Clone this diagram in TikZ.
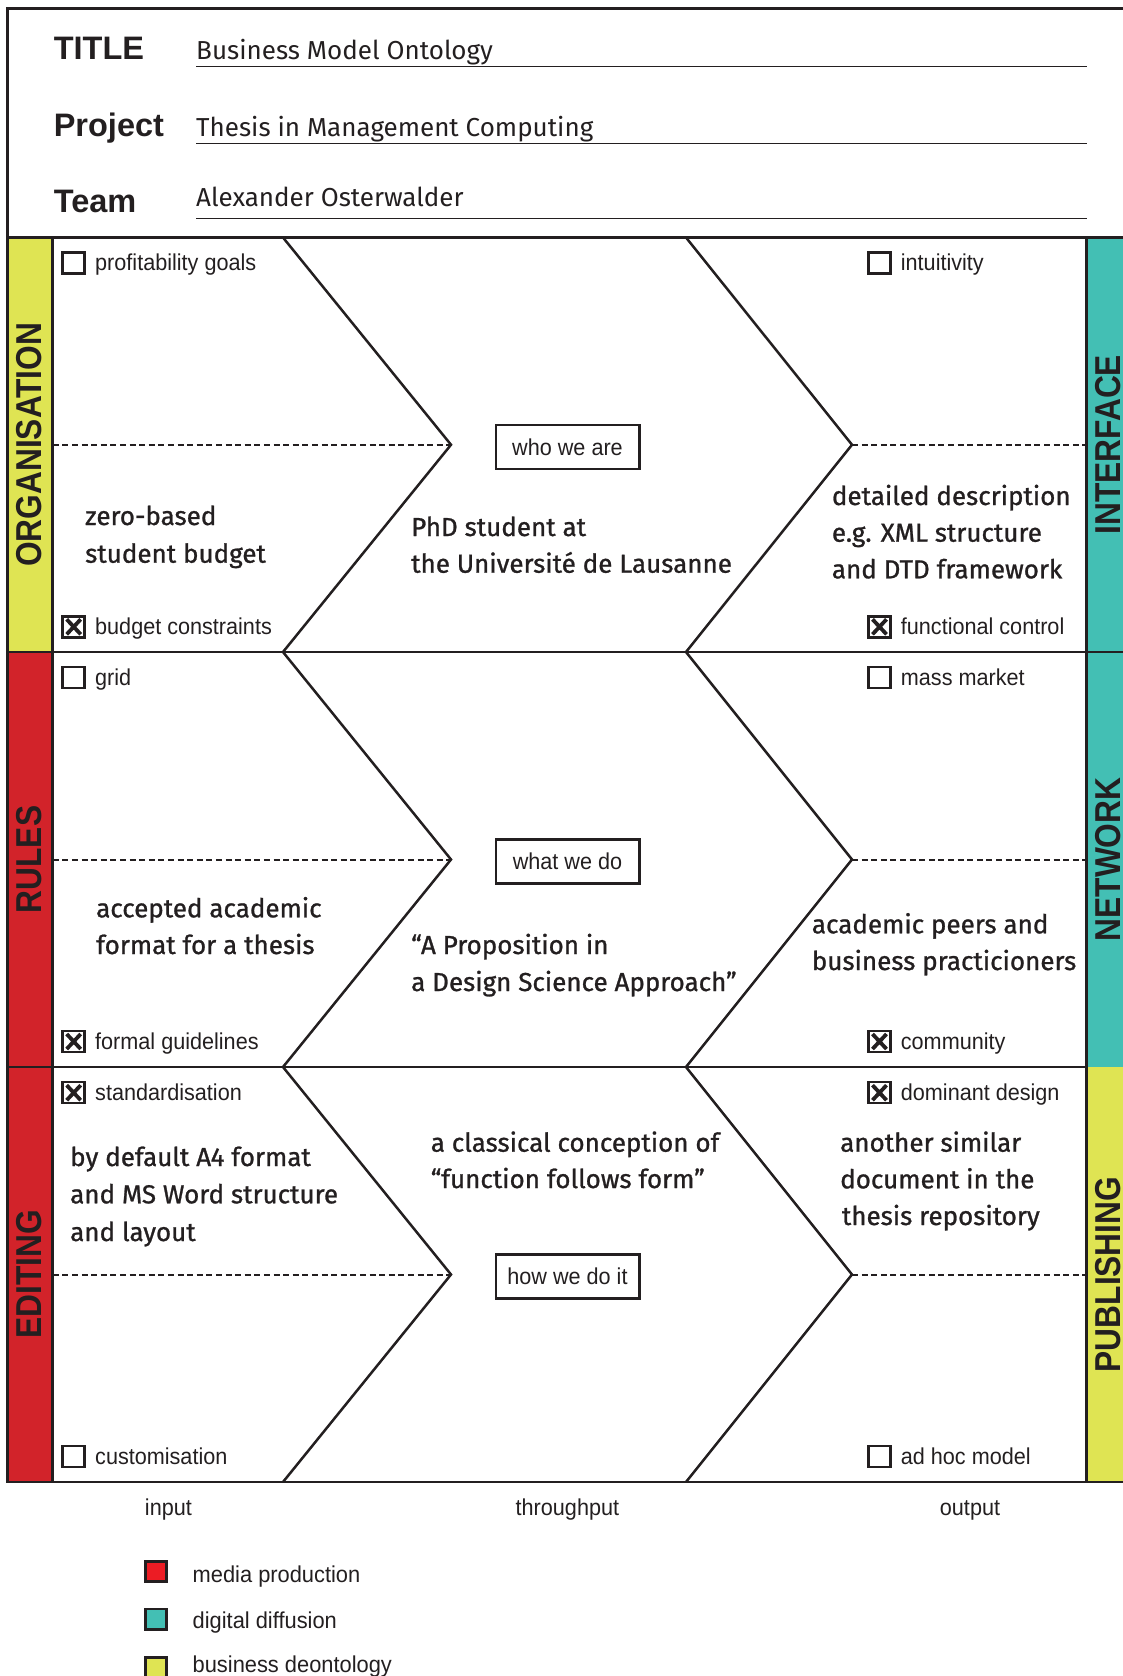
\documentclass[tikz,border=0pt]{standalone}
\usepackage{fontspec}
\setmainfont{Liberation Sans}
\newfontfamily\lblfont[FakeStretch=0.94]{Liberation Sans}
\newfontfamily\lgdfont[FakeStretch=0.95]{Liberation Sans}
\newfontfamily\hdrfont{Liberation Sans}
\newfontfamily\barfont[FakeStretch=0.88]{Liberation Sans}
\newfontfamily\handfont{Fira Sans}
\newfontfamily\handbfont[FakeBold=1]{Fira Sans}
\definecolor{colYel}{HTML}{DFE453}
\definecolor{colRed}{HTML}{D2232A}
\definecolor{colTeal}{HTML}{43BFB4}
\definecolor{colLegRed}{HTML}{EC1C24}
\definecolor{ink}{HTML}{231F20}
\tikzset{
  frameline/.style={draw=ink,line width=2.7pt},
  chevline/.style={draw=ink,line width=2.5pt,line join=miter},
  midline/.style={draw=ink,line width=2pt,dash pattern=on 6pt off 3.6pt},
  uline/.style={draw=ink,line width=1.5pt},
  lab/.style={inner sep=0pt,anchor=base west,text=ink,font=\lblfont\fontsize{23}{27}\selectfont},
  lgd/.style={inner sep=0pt,anchor=base west,text=ink,font=\lgdfont\fontsize{23}{27}\selectfont},
  bottomlab/.style={inner sep=0pt,anchor=base,text=ink,font=\lblfont\fontsize{23}{27}\selectfont},
  hdr/.style={inner sep=0pt,anchor=base west,text=ink,font=\hdrfont\bfseries\fontsize{32.5}{36}\selectfont},
  hval/.style={inner sep=0pt,anchor=base west,text=ink,font=\handfont\fontsize{26}{30}\selectfont},
  hand/.style={inner sep=0pt,anchor=base west,text=ink,font=\handbfont\fontsize{26}{30}\selectfont},
  barlab/.style={inner sep=0pt,rotate=90,text=ink,font=\barfont\bfseries\fontsize{36}{40}\selectfont},
  tagbox/.style={draw=ink,line width=2.5pt,minimum width=143.5pt,minimum height=44pt,inner sep=0pt,text=ink,font=\lblfont\fontsize{23}{27}\selectfont},
  cbox/.pic={\draw[ink,line width=2.5pt] (0,0) rectangle (22,21);},
  xbox/.pic={\draw[ink,line width=2.5pt] (0,0) rectangle (22,21);
             \draw[ink,line width=3.8pt] (4,3) -- (18,18) (18,3) -- (4,18);},
  legbox/.style={draw=ink,line width=2.5pt}
}
\begin{document}
\begin{tikzpicture}[x=1pt,y=-1pt]
\useasboundingbox (0,0) rectangle (1123,1676);
% colour bars
\path[fill=colYel] (7.3,237.5) rectangle (52.7,652);
\path[fill=colRed] (7.3,652) rectangle (52.7,1482);
\path[fill=colTeal] (1086.7,237.5) rectangle (1123,1067);
\path[fill=colYel] (1086.7,1067) rectangle (1123,1482);
% frame
\draw[frameline] (1123,8.3) -- (7.3,8.3) -- (7.3,1482) -- (1123,1482);
\draw[frameline] (7.3,237.5) -- (1123,237.5);
\draw[frameline] (7.3,652) -- (1123,652);
\draw[frameline] (7.3,1067) -- (1086.7,1067);
\draw[frameline] (52.7,237.5) -- (52.7,1482);
\draw[frameline] (1086.7,237.5) -- (1086.7,1482);
% chevrons and dashed middle lines
\foreach \t/\m/\b in {237.5/444.75/652, 652/859.5/1067, 1067/1274.5/1482}{
  \draw[chevline] (283,\t) -- (451,\m) -- (283,\b);
  \draw[chevline] (686,\t) -- (852,\m) -- (686,\b);
  \draw[midline] (52.7,\m) -- (451,\m);
  \draw[midline] (852,\m) -- (1086.7,\m);
}
% header
\node[hdr] (tlab) at (53.6,59.3) {TITLE};
\node[hdr] (plab) at (53.6,136) {Project};
\node[hdr] (mlab) at (53.6,212.7) {Team};
\node[hval] (tval) at (196,59.3) {Business Model Ontology};
\node[hval] (pval) at (196,136) {Thesis in Management Computing};
\node[hval] (mval) at (196,206.7) {Alexander Osterwalder};
\draw[uline] (196,66.7) -- (1087,66.7);
\draw[uline] (196,143.3) -- (1087,143.3);
\draw[uline] (196,218.3) -- (1087,218.3);
% side labels
\node[barlab] (org) at (29.5,444.75) {ORGANISATION};
\node[barlab] (rul) at (29.5,859.5) {RULES};
\node[barlab] (edi) at (29.5,1274.5) {EDITING};
\node[barlab] (itf) at (1108,444.75) {INTERFACE};
\node[barlab] (net) at (1108,859.5) {NETWORK};
\node[barlab] (pub) at (1108,1274.5) {PUBLISHING};
% check items row 1
\pic at (62.7,252.7) {cbox};
\node[lab] (c11) at (95,270) {profitability goals};
\pic at (62.7,616.3) {xbox};
\node[lab] (c12) at (95,634) {budget constraints};
\pic at (868.5,252.7) {cbox};
\node[lab] (c13) at (900.7,270) {intuitivity};
\pic at (868.5,616.3) {xbox};
\node[lab] (c14) at (900.7,634) {functional control};
% row 2
\pic at (62.7,667.2) {cbox};
\node[lab] (c21) at (95,685) {grid};
\pic at (62.7,1031) {xbox};
\node[lab] (c22) at (95,1049) {formal guidelines};
\pic at (868.5,667.2) {cbox};
\node[lab] (c23) at (900.7,685) {mass market};
\pic at (868.5,1031) {xbox};
\node[lab] (c24) at (900.7,1049) {community};
% row 3
\pic at (62.7,1082.2) {xbox};
\node[lab] (c31) at (95,1100) {standardisation};
\pic at (62.7,1446) {cbox};
\node[lab] (c32) at (95,1464) {customisation};
\pic at (868.5,1082.2) {xbox};
\node[lab] (c33) at (900.7,1100) {dominant design};
\pic at (868.5,1446) {cbox};
\node[lab] (c34) at (900.7,1464) {ad hoc model};
% tag boxes
\node[tagbox] (who) at (567.5,447) {who we are};
\node[tagbox] (what) at (567.5,861.5) {what we do};
\node[tagbox] (how) at (567.5,1276.5) {how we do it};
% hand-written content row 1
\node[hand] (a1) at (85,525) {zero-based};
\node[hand] (a2) at (85,562.7) {student budget};
\node[hand] (b1) at (411,536) {PhD student at};
\node[hand] (b2) at (411,572.7) {the Université de Lausanne};
\node[hand] (d1) at (831.7,505) {detailed description};
\node[hand] (d2) at (831.7,541.7) {e.g. XML structure};
\node[hand] (d3) at (831.7,578.3) {and DTD framework};
% row 2
\node[hand] (e1) at (96,917.3) {accepted academic};
\node[hand] (e2) at (96,954) {format for a thesis};
\node[hand] (f1) at (411,954) {“A Proposition in};
\node[hand] (f2) at (411,991) {a Design Science Approach”};
\node[hand] (g1) at (811.7,933.3) {academic peers and};
\node[hand] (g2) at (811.7,970) {business practicioners};
% row 3
\node[hand] (h1) at (70,1166) {by default A4 format};
\node[hand] (h2) at (70,1203.3) {and MS Word structure};
\node[hand] (h3) at (70,1241) {and layout};
\node[hand] (i1) at (430.6,1151.7) {a classical conception of};
\node[hand] (i2) at (430.6,1188) {“function follows form”};
\node[hand] (j1) at (840,1151.7) {another similar};
\node[hand] (j2) at (840,1188.3) {document in the};
\node[hand] (j3) at (841.7,1225) {thesis repository};
% column labels
\node[bottomlab] (inp) at (168.4,1515) {input};
\node[bottomlab] (thr) at (567.4,1515) {throughput};
\node[bottomlab] (out) at (970,1515) {output};
% legend
\draw[legbox,fill=colLegRed] (145.4,1561.7) rectangle (166.5,1581.7);
\node[lgd] (l1) at (192.5,1582) {media production};
\draw[legbox,fill=colTeal] (145.4,1609) rectangle (166.5,1629.3);
\node[lgd] (l2) at (192.5,1628) {digital diffusion};
\draw[legbox,fill=colYel] (145.4,1657.3) rectangle (166.5,1677.5);
\node[lgd] (l3) at (192.5,1672) {business deontology};
\end{tikzpicture}
\end{document}
